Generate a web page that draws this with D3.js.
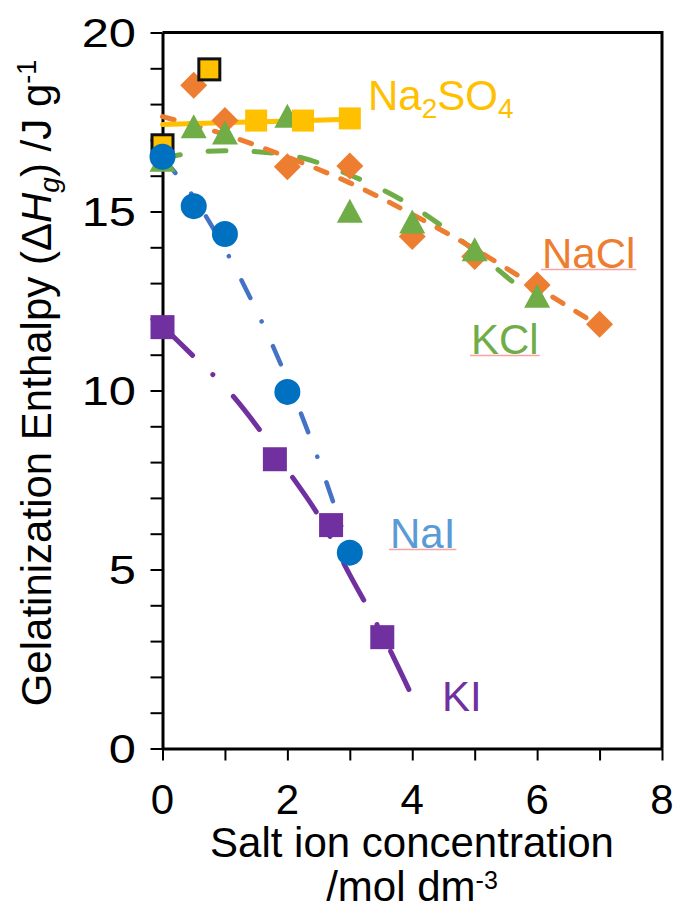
<!DOCTYPE html>
<html><head><meta charset="utf-8">
<script src="https://cdn.jsdelivr.net/npm/d3@7"></script>
<style>body{margin:0;background:#fff} svg{display:block} text{font-family:"Liberation Sans",Arial,sans-serif}</style>
</head><body>
<svg id="c" width="678" height="910"></svg>
<script>
// ---- data ----
const na2so4Conc = [1.5, 2.25, 3];
const na2so4Vals = [17.54, 17.54, 17.6];
const na2so4OutConc = [0, 0.75];
const na2so4OutVals = [16.85, 18.97];
const na2so4FitConc = [0, 3];
const na2so4FitVals = [17.43, 17.58];

const naclConc = [0.5, 1, 2, 3, 4, 5, 6, 7];
const naclVals = [18.53, 17.54, 16.25, 16.27, 14.3, 13.74, 12.95, 11.85];
const naclFitConc = [0, 1, 2, 3, 4, 5, 6, 7];
const naclFitVals = [17.65, 17.15, 16.52, 15.8, 14.92, 13.95, 12.88, 11.8];

const kclConc = [0, 0.5, 1, 2, 3, 4, 5, 6];
const kclVals = [16.42, 17.35, 17.18, 17.65, 14.99, 14.69, 13.92, 12.62];
const kclFitConc = [0, 1, 2, 3, 4, 5, 6];
const kclFitVals = [16.5, 16.7, 16.58, 16.02, 15.15, 13.9, 12.45];

const naiConc = [0, 0.5, 1, 2, 3];
const naiVals = [16.53, 15.15, 14.37, 9.96, 5.47];
const naiFitConc = [0, 0.5, 1, 1.5, 2, 2.5, 3];
const naiFitVals = [16.5, 15.4, 13.95, 12.25, 10.3, 8.05, 5.5];

const kiConc = [0, 1.8, 2.7, 3.52];
const kiVals = [11.77, 8.08, 6.24, 3.11];
const kiFitConc = [0, 0.5, 1, 1.5, 2, 2.5, 3, 3.5, 4];
const kiFitVals = [11.8, 10.95, 10.1, 9.03, 7.78, 6.5, 4.85, 3.25, 1.45];

const xTicks = [0, 1, 2, 3, 4, 5, 6, 7, 8];
const xTickLabels = [0, 2, 4, 6, 8];
const yTicks = d3.range(0, 21, 1);
const yTickLabels = [0, 5, 10, 15, 20];

// ---- setup ----
const svg = d3.select("#c");
const x = d3.scaleLinear().domain([0, 8]).range([162.5, 662]);
const y = d3.scaleLinear().domain([0, 20]).range([748.5, 32.5]);
const zip = (a, b) => a.map((v, i) => [v, b[i]]);

// frame (top & right)
svg.append("path")
  .attr("d", `M${x(0)},${y(20)}H${x(8)}V${y(0)}`)
  .attr("fill", "none").attr("stroke", "#000").attr("stroke-width", 3);

// axes
const gx = svg.append("g").attr("transform", `translate(0,${y(0)})`)
  .call(d3.axisBottom(x).tickValues(xTicks).tickSize(12).tickSizeOuter(0).tickFormat(""));
const gy = svg.append("g").attr("transform", `translate(${x(0)},0)`)
  .call(d3.axisLeft(y).tickValues(yTicks).tickSize(12).tickSizeOuter(0).tickFormat(""));
[gx, gy].forEach(g => {
  g.select(".domain").attr("stroke", "#000").attr("stroke-width", 3);
  g.selectAll(".tick line").attr("stroke", "#000").attr("stroke-width", 2);
});

// tick labels
svg.append("g").selectAll("text").data(xTickLabels).join("text")
  .attr("x", d => x(d)).attr("y", 814).attr("text-anchor", "middle")
  .attr("font-size", 42).attr("fill", "#000").text(d => d);
svg.append("g").selectAll("text").data(yTickLabels).join("text")
  .attr("transform", d => `translate(136,${y(d) + 14.5}) scale(1.22,1)`)
  .attr("text-anchor", "end").attr("font-size", 40).attr("fill", "#000").text(d => d);

// axis titles
svg.append("text").attr("x", 412).attr("y", 857).attr("text-anchor", "middle")
  .attr("font-size", 42).text("Salt ion concentration");
const xt2 = svg.append("text").attr("x", 412).attr("y", 901).attr("text-anchor", "middle").attr("font-size", 42);
xt2.append("tspan").text("/mol dm");
xt2.append("tspan").attr("dy", -12).attr("font-size", 25).text("-3");

const yt = svg.append("text").attr("transform", "translate(51,383) rotate(-90)")
  .attr("text-anchor", "middle").attr("font-size", 42);
yt.append("tspan").text("Gelatinization Enthalpy (Δ");
yt.append("tspan").attr("font-style", "italic").text("H");
yt.append("tspan").attr("font-style", "italic").attr("font-size", 28).attr("dy", 8).text("g");
yt.append("tspan").attr("dy", -8).text(") /J g");
yt.append("tspan").attr("dy", -15).attr("font-size", 27).text("-1");

// ---- fit lines ----
const line = d3.line().x(d => x(d[0])).y(d => y(d[1])).curve(d3.curveMonotoneX);
function fit(cx, cy, color, w, dash) {
  svg.append("path").datum(zip(cx, cy)).attr("d", line)
    .attr("fill", "none").attr("stroke", color).attr("stroke-width", w)
    .attr("stroke-linecap", "round").attr("stroke-dasharray", dash);
}
fit(kiFitConc, kiFitVals, "#7030A0", 5, "42 28 0.1 30");
fit(naiFitConc, naiFitVals, "#4472C4", 4.5, "20 26 0.1 27");
fit(kclFitConc, kclFitVals, "#70AD47", 5, "18 28");
fit(naclFitConc, naclFitVals, "#ED7D31", 5, "12 15");
fit(na2so4FitConc, na2so4FitVals, "#FFC000", 5, null);

// ---- markers ----
const diamond = r => `M0,${-r}L${r},0L0,${r}L${-r},0Z`;
const tri = "M0,-13L13,11L-13,11Z";
svg.append("g").selectAll("path").data(zip(naclConc, naclVals)).join("path")
  .attr("transform", d => `translate(${x(d[0])},${y(d[1])})`).attr("d", diamond(13.5)).attr("fill", "#ED7D31");
svg.append("g").selectAll("path").data(zip(kclConc, kclVals)).join("path")
  .attr("transform", d => `translate(${x(d[0])},${y(d[1])})`).attr("d", tri).attr("fill", "#70AD47");
svg.append("g").selectAll("rect").data(zip(na2so4Conc, na2so4Vals)).join("rect")
  .attr("x", d => x(d[0]) - 11).attr("y", d => y(d[1]) - 11).attr("width", 22).attr("height", 22).attr("fill", "#FFC000");
svg.append("g").selectAll("rect").data(zip(na2so4OutConc, na2so4OutVals)).join("rect")
  .attr("x", d => x(d[0]) - 10.5).attr("y", d => y(d[1]) - 10.5).attr("width", 21).attr("height", 21)
  .attr("fill", "#FFC000").attr("stroke", "#111").attr("stroke-width", 3);
svg.append("g").selectAll("rect").data(zip(kiConc, kiVals)).join("rect")
  .attr("x", d => x(d[0]) - 12).attr("y", d => y(d[1]) - 12).attr("width", 24).attr("height", 24).attr("fill", "#7030A0");
svg.append("g").selectAll("circle").data(zip(naiConc, naiVals)).join("circle")
  .attr("cx", d => x(d[0])).attr("cy", d => y(d[1])).attr("r", 13).attr("fill", "#0070C0");

// ---- series labels ----
// parts: [text, shift] where shift is the baseline offset (0 = normal, 8 = subscript)
function label(px, py, color, parts, underline) {
  const t = svg.append("text").attr("x", px).attr("y", py).attr("font-size", 42).attr("fill", color);
  let cur = 0;
  parts.forEach(p => {
    const shift = p[1] || 0;
    const s = t.append("tspan").text(p[0]).attr("dy", shift - cur);
    if (shift) s.attr("font-size", 28);
    cur = shift;
  });
  if (underline) {
    const w = t.node().getComputedTextLength();
    svg.append("line").attr("x1", px - 1).attr("x2", px + w + 1).attr("y1", py + 1.5).attr("y2", py + 1.5)
      .attr("stroke", "#F6A4A4").attr("stroke-width", 1.5);
  }
}
label(368, 110, "#FFC000", [["Na", 0], ["2", 8], ["SO", 0], ["4", 8]], false);
label(542, 268, "#ED7D31", [["NaCl", 0]], true);
label(471, 354, "#70AD47", [["KCl", 0]], true);
label(390, 548, "#5B9BD5", [["NaI", 0]], true);
label(442, 711, "#7030A0", [["KI", 0]], false);
</script>
</body></html>
